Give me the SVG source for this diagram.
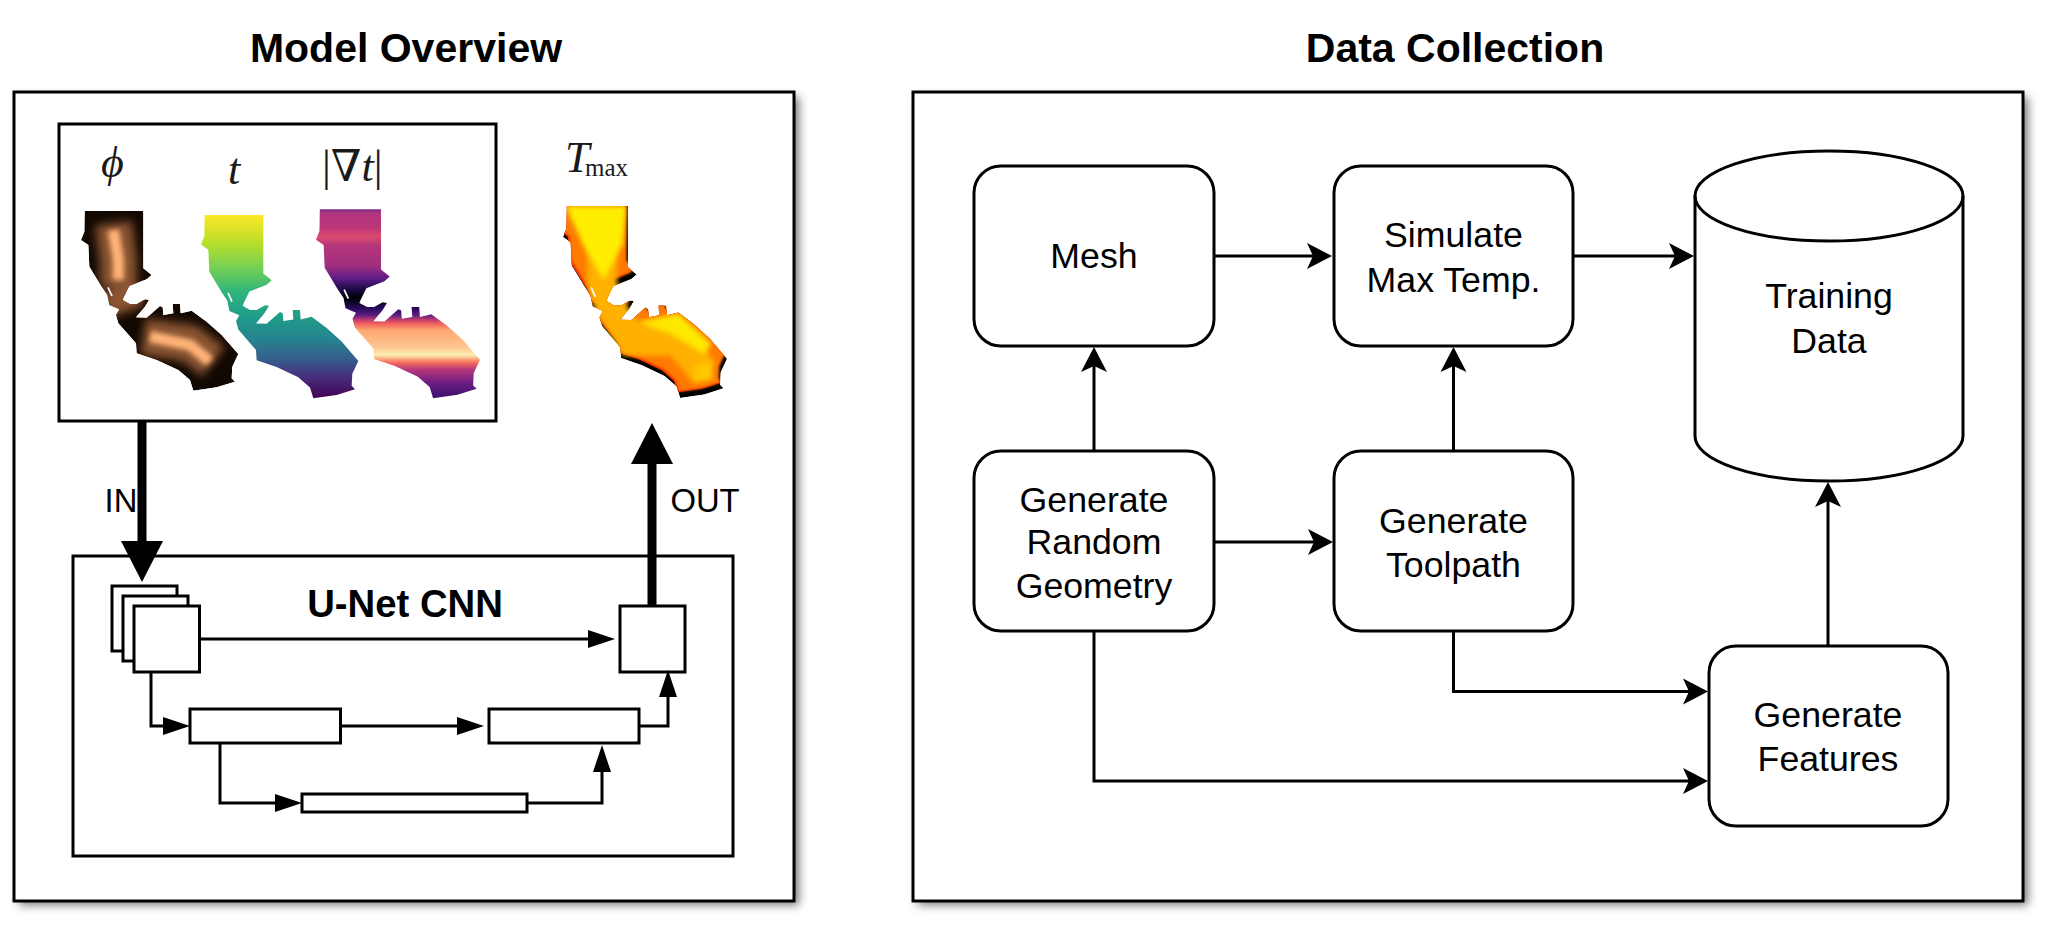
<svg xmlns="http://www.w3.org/2000/svg" xmlns:xlink="http://www.w3.org/1999/xlink" width="2046" height="927" viewBox="0 0 2046 927">
<style>
.frame{fill:#fff;stroke:#000;stroke-width:3}
.box{fill:#fff;stroke:#000;stroke-width:3}
.thin{fill:#fff;stroke:#000;stroke-width:3}
.c{fill:none;stroke:#000;stroke-width:3}
.cs{fill:none;stroke:#000;stroke-width:3}
.ct{fill:none;stroke:#000;stroke-width:9}
text{font-family:"Liberation Sans",Arial,sans-serif;fill:#000}
.title{font-size:41px;font-weight:700;text-anchor:middle}
.lbl{font-size:35.7px;text-anchor:middle}
.sm{font-size:32.8px;text-anchor:middle}
.un{font-size:38.3px;font-weight:700;text-anchor:middle}
.m{font-family:"Liberation Serif","DejaVu Serif",serif;fill:#1a1a1a;font-size:44px}
</style>
<defs>
<filter id="sh" x="-5%" y="-5%" width="110%" height="110%"><feGaussianBlur stdDeviation="5"/></filter>
<filter id="b3" x="-30%" y="-30%" width="160%" height="160%"><feGaussianBlur stdDeviation="8"/></filter>
<filter id="b2" x="-30%" y="-30%" width="160%" height="160%"><feGaussianBlur stdDeviation="14"/></filter>
<filter id="b4" x="-30%" y="-30%" width="160%" height="160%"><feGaussianBlur stdDeviation="4"/></filter>
<marker id="a" markerUnits="userSpaceOnUse" markerWidth="30" markerHeight="30" refX="7" refY="15" orient="auto" overflow="visible"><path d="M0,2 L25,15 L0,28 L6,15 z" fill="#000"/></marker>
<marker id="s" markerUnits="userSpaceOnUse" markerWidth="30" markerHeight="22" refX="1" refY="11" orient="auto" overflow="visible"><path d="M0,2 L27,11 L0,20 z" fill="#000"/></marker>
<marker id="t" markerUnits="userSpaceOnUse" markerWidth="44" markerHeight="44" refX="1" refY="22" orient="auto" overflow="visible"><path d="M0,1 L41,22 L0,43 z" fill="#000"/></marker>
<path id="ca" d="M104,93 L280,93 L280,265 L305,285 L290,298 L238,318 L222,350 L218,360 L240,372 L260,372 L285,358 L297,360 L285,380 L258,412 L290,413 L330,378 L338,382 L340,405 L370,400 L368,372 L390,372 L392,400 L425,392 L470,425 L515,465 L565,522 L547,560 L545,595 L555,605 L500,622 L430,632 L420,600 L385,570 L320,540 L260,520 L258,490 L205,430 L198,405 L208,388 L178,375 L172,345 L155,320 L118,260 L115,195 L93,180 L103,155 Z"/>
<clipPath id="caclip"><use xlink:href="#ca" href="#ca"/></clipPath>
<linearGradient id="vir" x1="0" y1="0" x2="0" y2="1">
<stop offset="0" stop-color="#fde725"/><stop offset=".16" stop-color="#b5de2b"/><stop offset=".3" stop-color="#6ece58"/><stop offset=".42" stop-color="#2fb47c"/><stop offset=".55" stop-color="#1f9e89"/><stop offset=".68" stop-color="#26828e"/><stop offset=".78" stop-color="#35608d"/><stop offset=".88" stop-color="#46307e"/><stop offset="1" stop-color="#440154"/>
</linearGradient>
<linearGradient id="mag" x1="0" y1="0" x2="0" y2="1">
<stop offset="0" stop-color="#7a2a80"/><stop offset=".02" stop-color="#b03580"/><stop offset=".1" stop-color="#bc3778"/><stop offset=".145" stop-color="#dc4b6c"/><stop offset=".19" stop-color="#b5367a"/><stop offset=".3" stop-color="#a02f7f"/><stop offset=".37" stop-color="#5a1a85"/><stop offset=".42" stop-color="#1f0c48"/><stop offset=".47" stop-color="#000004"/><stop offset=".525" stop-color="#2a0a5e"/><stop offset=".56" stop-color="#5b1e80"/><stop offset=".585" stop-color="#c23c70"/><stop offset=".605" stop-color="#f0605d"/><stop offset=".64" stop-color="#fda872"/><stop offset=".73" stop-color="#fec590"/><stop offset=".77" stop-color="#fdf0b0"/><stop offset=".81" stop-color="#f76f5c"/><stop offset=".85" stop-color="#b5367a"/><stop offset=".92" stop-color="#6a1c82"/><stop offset="1" stop-color="#3b0f70"/>
</linearGradient>
</defs>
<rect width="2046" height="927" fill="#fff"/>

<g id="panel-model">
<rect x="19" y="97" width="780" height="808" fill="#777" filter="url(#sh)"/>
<rect class="frame" x="14" y="92" width="780" height="809"/>
</g>
<g id="panel-data">
<rect x="918" y="97" width="1110" height="808" fill="#777" filter="url(#sh)"/>
<rect class="frame" x="913" y="92" width="1110" height="809"/>
</g>
<text class="title" x="406" y="62">Model Overview</text>
<text class="title" x="1455" y="62">Data Collection</text>

<g id="inputs">
<rect class="box" x="59" y="124" width="437" height="297"/>
</g>
<g id="unet">
<rect class="box" x="73" y="556" width="660" height="300"/>
<text class="un" x="405" y="617">U-Net CNN</text>
</g>

<g id="map-phi" transform="translate(50,180) scale(.3333)">
<g clip-path="url(#caclip)">
<use xlink:href="#ca" href="#ca" fill="#120802"/>
<path d="M190,130 L205,240 L205,320 M205,320 L230,395 M280,470 L420,490 L490,545" fill="none" stroke="#8a5430" stroke-width="110" filter="url(#b2)"/>
<path d="M190,150 L205,240 L205,300 M300,470 L420,495 L480,545" fill="none" stroke="#ffb277" stroke-width="34" filter="url(#b3)"/>
</g>
<path d="M174,322 L186,348" stroke="#fff" stroke-width="5"/>
</g>
<g id="map-t" transform="translate(201,215) scale(.3333,.3401) translate(-93,-93)">
<use xlink:href="#ca" href="#ca" fill="url(#vir)"/>
<path d="M174,322 L186,348" stroke="#fff" stroke-width="5"/>
</g>
<g id="map-grad" transform="translate(316,209.3) scale(.3475,.3506) translate(-93,-93)">
<use xlink:href="#ca" href="#ca" fill="url(#mag)"/>
<path d="M174,322 L186,348" stroke="#fff" stroke-width="5"/>
</g>
<g id="map-tmax" transform="translate(563,206) scale(.3475,.3562) translate(-93,-93)">
<g clip-path="url(#caclip)">
<use xlink:href="#ca" href="#ca" fill="#000"/>
<use xlink:href="#ca" href="#ca" fill="#e81000" transform="translate(-8,-16)"/>
<use xlink:href="#ca" href="#ca" fill="#ff7a00" transform="translate(-4,-18)" filter="url(#b4)"/>
<path d="M195,110 L205,240 L205,310 L225,370 L290,470 L420,470 L500,560" fill="none" stroke="#ffb000" stroke-width="85" filter="url(#b3)"/>
<path d="M100,93 L275,93 L265,200 L210,300 L150,200 Z" fill="#ffee00" filter="url(#b3)"/>
<path d="M300,420 L425,395 L520,480 L500,510 L400,450Z" fill="#ffe800" filter="url(#b3)"/>
<path d="M470,545 L520,530 L525,580 L470,590Z" fill="#ffc800" filter="url(#b3)"/>
</g>
<path d="M174,322 L186,348" stroke="#fff" stroke-width="5"/>
</g>
<text class="m" font-style="italic" x="101" y="177">ϕ</text>
<text class="m" font-style="italic" x="228" y="184">t</text>
<text class="m" x="322" y="181">|∇<tspan font-style="italic">t</tspan>|</text>
<text class="m" font-style="italic" x="565" y="172">T</text>
<text class="m" x="585" y="176" style="font-size:25px">max</text>

<g id="stack-1"><rect class="thin" x="112" y="586" width="65" height="65"/></g>
<g id="stack-2"><rect class="thin" x="123" y="596" width="65" height="65"/></g>
<g id="stack-3"><rect class="thin" x="134" y="606" width="65.500" height="66"/></g>
<g id="out-square"><rect class="thin" x="620" y="606" width="65" height="66"/></g>
<g id="enc-1"><rect class="thin" x="190" y="709" width="150.500" height="34"/></g>
<g id="dec-1"><rect class="thin" x="489" y="709" width="150" height="34"/></g>
<g id="bottleneck"><rect class="thin" x="302" y="794" width="225" height="18"/></g>

<g id="mesh"><rect class="box" x="974" y="166" width="240" height="180" rx="27"/><text class="lbl" x="1094" y="268">Mesh</text></g>
<g id="simulate"><rect class="box" x="1334" y="166" width="239" height="180" rx="27"/><text class="lbl" x="1453.500" y="247">Simulate</text><text class="lbl" x="1453.500" y="292">Max Temp.</text></g>
<g id="geometry"><rect class="box" x="974" y="451" width="240" height="180" rx="27"/><text class="lbl" x="1094" y="512">Generate</text><text class="lbl" x="1094" y="554">Random</text><text class="lbl" x="1094" y="598">Geometry</text></g>
<g id="toolpath"><rect class="box" x="1334" y="451" width="239" height="180" rx="27"/><text class="lbl" x="1453.500" y="533">Generate</text><text class="lbl" x="1453.500" y="577">Toolpath</text></g>
<g id="features"><rect class="box" x="1709" y="646" width="239" height="180" rx="27"/><text class="lbl" x="1828" y="727">Generate</text><text class="lbl" x="1828" y="771">Features</text></g>
<g id="training"><path class="box" d="M1695,196 A134,45 0 0 1 1963,196 L1963,436 A134,45 0 0 1 1695,436 Z"/><path class="box" style="fill:none" d="M1695,196 A134,45 0 0 0 1963,196"/><text class="lbl" x="1829" y="308">Training</text><text class="lbl" x="1829" y="353">Data</text></g>

<g id="connectors">
<path class="ct" d="M142,421 L142,542" marker-end="url(#t)"/>
<path class="ct" d="M652,606 L652,463" marker-end="url(#t)"/>
<path class="cs" d="M200,639 L589,639" marker-end="url(#s)"/>
<path class="cs" d="M151,672 L151,726 L164,726" marker-end="url(#s)"/>
<path class="cs" d="M341,726 L458,726" marker-end="url(#s)"/>
<path class="cs" d="M639,726 L668,726 L668,696" marker-end="url(#s)"/>
<path class="cs" d="M220,743 L220,803 L276,803" marker-end="url(#s)"/>
<path class="cs" d="M527,803 L602,803 L602,771" marker-end="url(#s)"/>
<path class="c" d="M1214,256 L1314,256" marker-end="url(#a)"/>
<path class="c" d="M1573,256 L1676,256" marker-end="url(#a)"/>
<path class="c" d="M1094,451 L1094,365" marker-end="url(#a)"/>
<path class="c" d="M1453.500,451 L1453.500,365" marker-end="url(#a)"/>
<path class="c" d="M1214,542 L1315,542" marker-end="url(#a)"/>
<path class="c" d="M1453.500,631 L1453.500,691.500 L1690,691.500" marker-end="url(#a)"/>
<path class="c" d="M1094,631 L1094,781 L1690,781" marker-end="url(#a)"/>
<path class="c" d="M1828,646 L1828,500" marker-end="url(#a)"/>
</g>
<text class="sm" x="121" y="512">IN</text>
<text class="sm" x="705" y="512">OUT</text>
</svg>
